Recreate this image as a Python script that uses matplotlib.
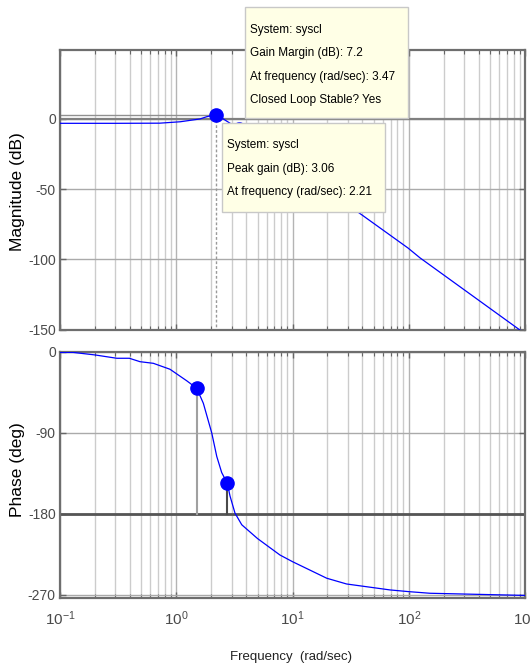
import numpy as np
import matplotlib
matplotlib.use('Agg')
import matplotlib.pyplot as plt
from matplotlib.patches import Rectangle
from matplotlib.ticker import FixedLocator, LogLocator, NullFormatter

# fontes: Liberation Sans (métrica de Arial), tamanhos ajustados à largura do original
sans = ['Liberation Sans', 'DejaVu Sans']
plt.rcParams['font.family'] = sans
plt.rcParams['axes.unicode_minus'] = False
plt.rcParams['mathtext.fontset'] = 'custom'
plt.rcParams['mathtext.rm'] = 'Liberation Sans'
plt.rcParams['mathtext.it'] = 'Liberation Sans:italic'
plt.rcParams['mathtext.bf'] = 'Liberation Sans:bold'

# curva de magnitude
mag_freq = [0.1, 0.3, 0.72, 1.08, 1.6, 1.83, 2.21, 3.47, 4.5, 7, 10, 20, 28, 36, 98.6, 125, 1000]
mag_db = [-3.2, -3.2, -3.1, -2.1, -0.1, 1.5, 3.06, -7.2, -14, -25, -33.5, -51, -59.5, -66, -92, -99, -153]

# curva de fase
phase_freq = [0.1, 0.13, 0.2, 0.308, 0.395, 0.488, 0.635, 0.883, 1.23, 1.5, 1.71, 2.02, 2.23,
              2.46, 2.75, 2.9, 3.2, 3.66, 5.0, 7.8, 10, 19.7, 29.2, 69, 100, 152, 1000]
phase_deg = [-0.5, -0.5, -3.3, -7, -7, -10.8, -12.6, -19.2, -32, -40.3, -57, -90, -116,
             -134, -146, -160, -179, -192, -207.3, -225.6, -233, -251.4, -257.8, -264.4, -266.3, -268.1, -270.5]

# marcadores (data tips)
peak_freq, peak_db = 2.21, 3.06
gm_freq, gm_db = 3.47, -7.2
ph_mark_freq = [1.5, 2.75]
ph_mark_deg = [-40.3, -146]

mag_ticks = [-150, -100, -50, 0, 50]
phase_ticks = [-270, -180, -90, 0]
decades = [0.1, 1, 10, 100, 1000]
decade_labels = [r'$10^{-1}$', r'$10^{0}$', r'$10^{1}$', r'$10^{2}$', r'$10^{3}$']

tip_gm = ['System: syscl', 'Gain Margin (dB): 7.2', 'At frequency (rad/sec): 3.47', 'Closed Loop Stable? Yes']
tip_peak = ['System: syscl', 'Peak gain (dB): 3.06', 'At frequency (rad/sec): 2.21']

W, H = 531, 667
fig = plt.figure(figsize=(W / 100, H / 100), dpi=100)
fig.patch.set_facecolor('white')


def fx(px):
    return px / W


def fy(py):
    return 1 - py / H


ax1 = fig.add_axes([fx(60), fy(329.5), 465 / W, 279.5 / H])
ax2 = fig.add_axes([fx(60), fy(598.3), 465 / W, 246.6 / H])


def estilo(ax, yticks):
    ax.set_xscale('log')
    ax.set_xlim(0.1, 1000)
    ax.set_yticks(yticks)
    ax.xaxis.set_major_locator(FixedLocator(decades))
    ax.xaxis.set_minor_locator(LogLocator(base=10, subs=np.arange(2, 10), numticks=20))
    ax.xaxis.set_minor_formatter(NullFormatter())
    ax.tick_params(which='both', direction='in', top=True, right=True,
                   colors='#666666', labelcolor='#4a4a4a', labelsize=10, pad=3)
    ax.tick_params(which='major', length=4, width=1)
    ax.tick_params(which='minor', length=3, width=0.8)
    ax.grid(True, which='minor', axis='x', color='#cccccc', lw=1)
    ax.grid(True, which='major', axis='x', color='#b4b4b4', lw=1)
    ax.grid(True, which='major', axis='y', color='#aaaaaa', lw=1)
    for s in ax.spines.values():
        s.set_color('#6e6e6e')
        s.set_linewidth(1.6)
    ax.set_axisbelow(True)


estilo(ax1, mag_ticks)
estilo(ax2, phase_ticks)
ax1.set_ylim(-150, 49)
ax2.set_ylim(-273.7, 0.3)
ax1.tick_params(labelbottom=False)
ax2.set_xticklabels(decade_labels)
ax2.tick_params(axis='x', pad=8, labelsize=11)

# magnitude
ax1.axhline(0, color='#808080', lw=1.6, zorder=2)
ax1.plot([0.1, peak_freq], [peak_db, peak_db], color='#909090', lw=1, zorder=2)
ax1.plot([peak_freq, peak_freq], [peak_db, -150], color='#999999', lw=1, ls=(0, (2, 1.5)), zorder=2)
ax1.plot(mag_freq, mag_db, color='#0000ff', lw=0.9, zorder=3)
ax1.plot([peak_freq, gm_freq], [peak_db, gm_db], 'o', color='#0000ff', ms=9.5, zorder=4)

# fase
ax2.axhline(-180, color='#555555', lw=2, zorder=2)
ax2.plot([ph_mark_freq[0]] * 2, [ph_mark_deg[0], -180], color='#a0a0a0', lw=1.5, zorder=2)
ax2.plot([ph_mark_freq[1]] * 2, [ph_mark_deg[1], -180], color='#4a4a4a', lw=1.5, zorder=2)
ax2.plot(phase_freq, phase_deg, color='#0000ff', lw=0.9, zorder=3)
ax2.plot(ph_mark_freq, ph_mark_deg, 'o', color='#0000ff', ms=9.5, zorder=4)

# rótulos dos eixos
fig.text(fx(17.5), fy(191.5), 'Magnitude (dB)', rotation=90, ha='center', va='center', fontsize=12.5)
fig.text(fx(17.5), fy(470), 'Phase (deg)', rotation=90, ha='center', va='center', fontsize=12.5)
fig.text(fx(291), fy(657), 'Frequency  (rad/sec)', ha='center', va='center', fontsize=9.5, color='#222222')


# caixas dos data tips
def caixa(left, top, right, bottom, linhas, x_txt, y_linhas):
    fig.add_artist(Rectangle((fx(left), fy(bottom)), (right - left) / W, (bottom - top) / H,
                             transform=fig.transFigure, facecolor='#ffffe6', edgecolor='#c8c8c8',
                             lw=1, zorder=10))
    for linha, yy in zip(linhas, y_linhas):
        fig.text(fx(x_txt), fy(yy), linha, ha='left', va='center', fontsize=8.5,
                 color='black', zorder=11)


caixa(245, 7, 408, 118, tip_gm, 250, [30, 53.3, 76.7, 100])
caixa(221.7, 123.3, 385, 211.7, tip_peak, 226.7, [145, 168.7, 192])

fig.savefig('out.png', dpi=100)
